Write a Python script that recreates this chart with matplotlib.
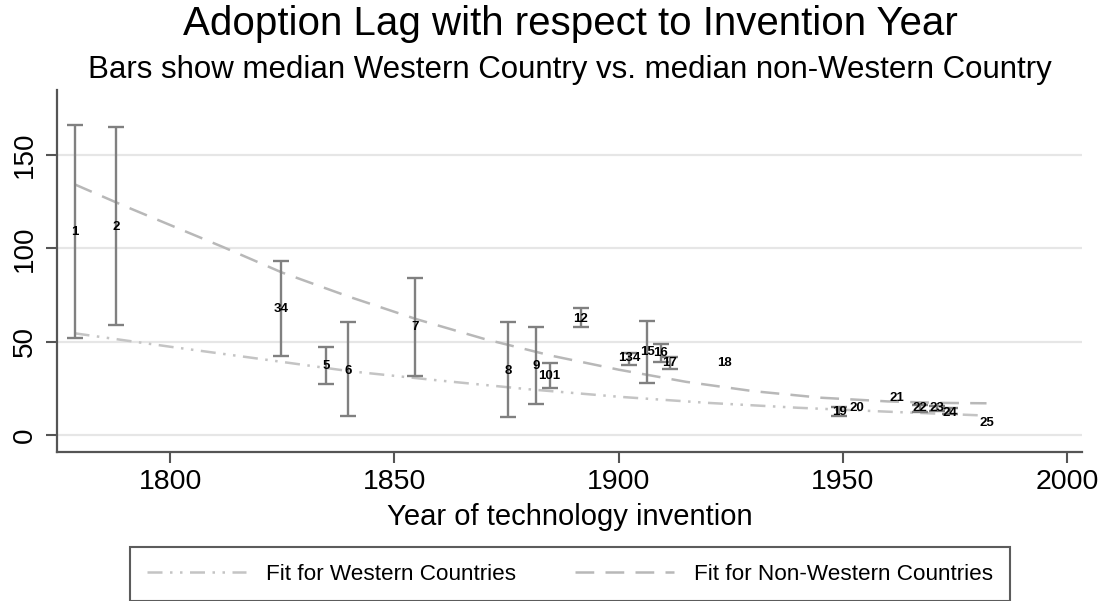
import matplotlib
matplotlib.use("Agg")
import matplotlib.pyplot as plt

plt.rcParams["font.family"] = ["Liberation Sans", "DejaVu Sans"]

# technology markers (label, invention year, marker value)
labels = ["1", "2", "34", "5", "6", "7", "8", "9", "101", "12", "134", "15",
          "16", "17", "18", "19", "20", "21", "22", "23", "24", "25"]
years = [1778.7, 1788.0, 1824.7, 1834.7, 1839.7, 1854.7, 1875.4, 1881.6,
         1884.6, 1891.5, 1902.3, 1906.4, 1909.4, 1911.4, 1923.5, 1949.2,
         1953.2, 1962.0, 1967.1, 1970.9, 1973.8, 1982.0]
lags = [108.9, 111.6, 67.5, 37.1, 34.4, 58.0, 34.4, 37.1, 31.6, 62.1, 41.1,
        44.5, 43.7, 38.7, 38.4, 12.5, 14.3, 20.0, 14.3, 14.3, 12.0, 6.6]

# bars: median Western vs median non-Western country
bar_years = [1778.7, 1788.0, 1824.7, 1834.7, 1839.7, 1854.7, 1875.4, 1881.6,
             1884.6, 1891.5, 1902.3, 1906.4, 1909.4, 1911.4, 1949.2, 1967.1,
             1970.9, 1973.8]
bar_low = [51.8, 58.8, 42.5, 27.3, 10.0, 31.8, 9.5, 16.6, 25.3, 58.0, 37.5,
           27.9, 39.3, 35.1, 10.0, 12.5, 13.0, 11.0]
bar_high = [166.0, 165.0, 93.2, 47.1, 60.5, 83.9, 60.4, 57.7, 38.7, 67.8,
            43.7, 61.1, 48.6, 41.9, 15.0, 16.0, 15.5, 14.5]

# fitted curves
west_years = [1778.7, 1800, 1820, 1840, 1860, 1880, 1900, 1920, 1940, 1960, 1981]
west_fit = [54.5, 47.3, 40.8, 34.2, 29.2, 24.5, 20.5, 17.2, 14.6, 12.5, 10.5]
nonwest_years = [1778.7, 1790, 1800, 1812, 1825, 1840, 1855, 1870, 1885,
                 1900, 1915, 1930, 1945, 1960, 1972, 1982]
nonwest_fit = [134.3, 122.5, 112.5, 100.5, 87.0, 74.0, 62.0, 51.5, 42.5,
               35.0, 28.5, 23.5, 20.0, 18.0, 17.2, 17.0]

xticks = [1800, 1850, 1900, 1950, 2000]
yticks = [0, 50, 100, 150]

fig = plt.figure(figsize=(10.99, 6.01), dpi=100)
ax = fig.add_axes([0.0519, 0.2479, 0.9327, 0.6023])

for y in yticks:
    ax.axhline(y, color="#e6e6e6", lw=1.6, zorder=0)

w_line, = ax.plot(west_years, west_fit, color="#c4c4c4", lw=1.8,
                  dashes=(6, 3, 1, 3, 1, 3), zorder=1)
nw_line, = ax.plot(nonwest_years, nonwest_fit, color="#b8b8b8", lw=1.8,
                   dashes=(7.5, 4.5), zorder=1)

mid = [(lo + hi) / 2 for lo, hi in zip(bar_low, bar_high)]
err = [[m - lo for m, lo in zip(mid, bar_low)],
       [hi - m for m, hi in zip(mid, bar_high)]]
ax.errorbar(bar_years, mid, yerr=err, fmt="none", ecolor="#808080",
            elinewidth=1.7, capsize=6, capthick=1.7, zorder=2)

for lab, x, y in zip(labels, years, lags):
    ax.text(x, y, lab, ha="center", va="center", fontsize=9.5,
            fontweight="bold", color="black", zorder=3)

ax.set_xlim(1774.8, 2003.3)
ax.set_ylim(-9.1, 184.8)
ax.set_xticks(xticks)
ax.set_yticks(yticks)
ax.tick_params(axis="both", length=8, width=1.5, color="#555555")
ax.tick_params(axis="x", labelsize=20.5, pad=4)
ax.tick_params(axis="y", labelsize=20, pad=6)
plt.setp(ax.get_yticklabels(), rotation=90, va="center")
for side in ["top", "right"]:
    ax.spines[side].set_visible(False)
for side in ["left", "bottom"]:
    ax.spines[side].set_color("#555555")
    ax.spines[side].set_linewidth(1.6)

ax.set_xlabel("Year of technology invention", fontsize=21, labelpad=6)

fig.text(0.5187, 0.96, "Adoption Lag with respect to Invention Year",
         ha="center", va="center", fontsize=29)
fig.text(0.5187, 0.884, "Bars show median Western Country vs. median non-Western Country",
         ha="center", va="center", fontsize=22.5)

leg = fig.legend([w_line, nw_line],
                 ["Fit for Western Countries", "Fit for Non-Western Countries"],
                 loc="center", bbox_to_anchor=(0.5187, 0.0449), ncol=2,
                 fontsize=16.2, handlelength=4.4, columnspacing=2.6,
                 handletextpad=0.9, borderpad=0.75, borderaxespad=0,
                 fancybox=False, frameon=True)
leg.get_frame().set_edgecolor("#333333")
leg.get_frame().set_linewidth(1.5)

fig.savefig("out.png", dpi=100)
